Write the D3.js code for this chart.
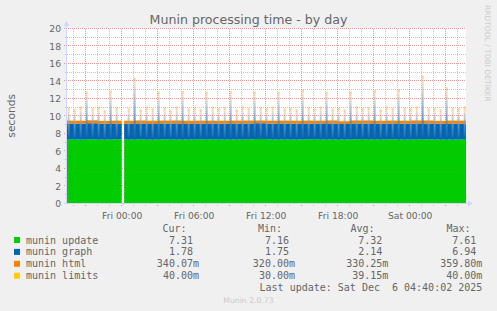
<!DOCTYPE html>
<html>
<head>
<meta charset="utf-8">
<script src="https://cdn.jsdelivr.net/npm/d3@7"></script>
<style>
  body { margin: 0; background: #f0f0f0; }
  svg { display: block; }
  text { font-family: "DejaVu Sans", sans-serif; fill: #666; }
  .mono { font-family: "DejaVu Sans Mono", monospace; font-size: 10px; white-space: pre; }
</style>
</head>
<body>
<svg id="chart"></svg>
<script>
// series
var seriesKeys = ["update", "graph", "html", "limits"];
var seriesNames = ["munin update", "munin graph", "munin html", "munin limits"];
var seriesColors = ["#00cc00", "#0066b3", "#ff8000", "#ffcc00"];

// legend values
var curVals = ["7.31", "1.78", "340.07m", "40.00m"];
var minVals = ["7.16", "1.75", "320.00m", "30.00m"];
var avgVals = ["7.32", "2.14", "330.25m", "39.15m"];
var maxVals = ["7.61", "6.94", "359.80m", "40.00m"];

var yTicks = [0, 2, 4, 6, 8, 10, 12, 14, 16, 18, 20];
var yMinorTicks = [1, 3, 5, 7, 9, 11, 13, 15, 17, 19];

// hours relative to Fri 5 Dec 2025 00:00
var viewHours = [-4.56, 28.69];

// base level, one slot per hour (null = no data)
var slotHours = [-5, -4, -3, -2, -1, 0, 0.2, 1, 2, 3, 4, 5, 6, 7, 8, 9, 10, 11, 12, 13,
  14, 15, 16, 17, 18, 19, 20, 21, 22, 23, 24, 25, 26, 27, 28];
var updateBase = [7.31, 7.30, 7.33, 7.29, 7.32, null, 7.30, 7.31, 7.29, 7.32, 7.30, 7.28,
  7.33, 7.31, 7.30, 7.29, 7.32, 7.34, 7.31, 7.30, 7.29, 7.33, 7.31, 7.30, 7.28, 7.32,
  7.31, 7.30, 7.33, 7.29, 7.31, 7.32, 7.30, 7.29, 7.31];
var graphBase = [1.80, 1.78, 1.82, 1.79, 1.77, null, 1.79, 1.81, 1.78, 1.80, 1.83, 1.79,
  1.77, 1.80, 1.78, 1.82, 1.79, 1.80, 1.78, 1.81, 1.79, 1.77, 1.80, 1.82, 1.78, 1.79,
  1.81, 1.80, 1.78, 1.79, 1.82, 1.80, 1.78, 1.81, 1.78];
var htmlBase = [0.33, 0.34, 0.33, 0.32, 0.34, null, 0.33, 0.33, 0.34, 0.32, 0.33, 0.35,
  0.33, 0.32, 0.34, 0.33, 0.33, 0.32, 0.34, 0.33, 0.33, 0.34, 0.32, 0.33, 0.33, 0.34,
  0.33, 0.32, 0.33, 0.34, 0.33, 0.33, 0.32, 0.34, 0.34];
var limitsBase = [0.04, 0.04, 0.04, 0.04, 0.04, null, 0.04, 0.04, 0.04, 0.04, 0.04, 0.04,
  0.04, 0.04, 0.04, 0.04, 0.04, 0.04, 0.04, 0.04, 0.04, 0.04, 0.04, 0.04, 0.04, 0.04,
  0.04, 0.04, 0.04, 0.04, 0.04, 0.04, 0.04, 0.04, 0.04];

// munin graph peaks (one 5 min sample each half hour)
var spikeHours = [-4.42, -3.92, -3.42, -2.92, -2.42, -1.92, -1.42, -0.92, -0.42, 0.08,
  0.58, 1.08, 1.58, 2.08, 2.58, 3.08, 3.58, 4.08, 4.58, 5.08, 5.58, 6.08, 6.58, 7.08,
  7.58, 8.08, 8.58, 9.08, 9.58, 10.08, 10.58, 11.08, 11.58, 12.08, 12.58, 13.08, 13.58,
  14.08, 14.58, 15.08, 15.58, 16.08, 16.58, 17.08, 17.58, 18.08, 18.58, 19.08, 19.58,
  20.08, 20.58, 21.08, 21.58, 22.08, 22.58, 23.08, 23.58, 24.08, 24.58, 25.08, 25.58,
  26.08, 26.58, 27.08, 27.58, 28.08, 28.58];
var spikeGraph = [3.3, 3.1, 3.4, 5.1, 3.2, 3.4, 3.0, 5.2, 3.3, null,
  3.2, 6.7, 3.1, 3.4, 3.2, 5.1, 3.3, 3.0, 3.4, 5.2, 3.2, 3.3, 3.1, 5.1,
  3.4, 3.2, 3.3, 5.2, 3.1, 3.4, 3.2, 5.1, 3.3, 3.2, 3.4, 5.1, 3.2,
  3.3, 3.1, 5.3, 3.3, 3.2, 3.4, 5.1, 3.2, 3.3, 3.1, 5.1, 3.4,
  3.2, 3.3, 5.3, 3.1, 3.4, 3.2, 5.4, 3.3, 3.2, 3.4, 6.94, 3.2,
  3.3, 3.1, 5.6, 3.3, 3.2, 3.4];

var width = 497, height = 311;
var plot = { left: 67, right: 466, top: 28.3, bottom: 203.3 };
var axisColor = "#cfd6f8";

var dayStart = new Date(2025, 11, 5, 0, 0, 0);
function hourToDate(h) { return new Date(+dayStart + h * 36e5); }
function crisp(v) { return Math.round(v - 0.5) + 0.5; }

var svg = d3.select("#chart")
    .attr("width", width)
    .attr("height", height);

// scales
var x = d3.scaleTime()
    .domain(viewHours.map(hourToDate))
    .range([plot.left, plot.right]);
var y = d3.scaleLinear()
    .domain([0, 20])
    .range([plot.bottom, plot.top]);

var defs = svg.append("defs");
defs.append("clipPath")
    .attr("id", "plotClip")
  .append("rect")
    .attr("x", plot.left)
    .attr("y", 0)
    .attr("width", plot.right - plot.left)
    .attr("height", plot.bottom);

var grad = defs.append("linearGradient")
    .attr("id", "spikeFade")
    .attr("x1", 0).attr("y1", 0).attr("x2", 0).attr("y2", 1);
grad.append("stop").attr("offset", 0).attr("stop-color", "#f5c894").attr("stop-opacity", 0.55);
grad.append("stop").attr("offset", 0.3).attr("stop-color", "#98b2c8").attr("stop-opacity", 0.7);
grad.append("stop").attr("offset", 1).attr("stop-color", "#0066b3").attr("stop-opacity", 0.95);

// canvas
svg.append("rect")
    .attr("x", plot.left)
    .attr("y", crisp(plot.top) - 0.5)
    .attr("width", plot.right - plot.left)
    .attr("height", plot.bottom - plot.top)
    .attr("fill", "#fff");

// grid
var minorTimes = x.ticks(d3.timeHour.every(1)).filter(function(d) { return d.getHours() % 3 !== 0; });
var majorTimes = x.ticks(d3.timeHour.every(3));
var labelTimes = x.ticks(d3.timeHour.every(6));

function drawGrid(opacity) {
  var gridG = svg.append("g")
      .attr("shape-rendering", "crispEdges")
      .attr("stroke-dasharray", "1,1")
      .attr("opacity", opacity);

  gridG.selectAll("line.vminor")
    .data(minorTimes)
    .join("line")
      .attr("x1", function(d) { return crisp(x(d)); })
      .attr("x2", function(d) { return crisp(x(d)); })
      .attr("y1", crisp(plot.top))
      .attr("y2", plot.bottom + 2.5)
      .attr("stroke", "rgba(143,143,143,0.45)");

  gridG.selectAll("line.hminor")
    .data(yMinorTicks)
    .join("line")
      .attr("x1", plot.left - 2)
      .attr("x2", plot.right)
      .attr("y1", function(d) { return crisp(y(d)); })
      .attr("y2", function(d) { return crisp(y(d)); })
      .attr("stroke", "rgba(143,143,143,0.45)");

  gridG.selectAll("line.vmajor")
    .data(majorTimes)
    .join("line")
      .attr("x1", function(d) { return crisp(x(d)); })
      .attr("x2", function(d) { return crisp(x(d)); })
      .attr("y1", crisp(plot.top))
      .attr("y2", plot.bottom + 3)
      .attr("stroke", "rgba(222,79,79,0.5)");

  gridG.selectAll("line.hmajor")
    .data(yTicks.slice(1))
    .join("line")
      .attr("x1", plot.left - 3)
      .attr("x2", plot.right)
      .attr("y1", function(d) { return crisp(y(d)); })
      .attr("y2", function(d) { return crisp(y(d)); })
      .attr("stroke", "rgba(222,79,79,0.5)");
}

drawGrid(1);

// stacked base
var baseRows = slotHours.map(function(h, i) {
  return {
    start: h,
    end: i < slotHours.length - 1 ? slotHours[i + 1] : viewHours[1],
    ok: updateBase[i] != null,
    update: updateBase[i], graph: graphBase[i], html: htmlBase[i], limits: limitsBase[i]
  };
});
var baseStack = d3.stack()
    .keys(seriesKeys)
    .value(function(d, k) { return d[k] == null ? 0 : d[k]; })(baseRows);

var stepArea = d3.area()
    .defined(function(p) { return p.ok; })
    .x(function(p) { return x(hourToDate(p.t)); })
    .y0(function(p) { return y(p.y0); })
    .y1(function(p) { return y(p.y1); });

var dataG = svg.append("g").attr("clip-path", "url(#plotClip)");

dataG.selectAll("path.layer")
  .data(baseStack)
  .join("path")
    .classed("layer", true)
    .attr("fill", function(d, i) { return seriesColors[i]; })
    .attr("d", function(layer) {
      var pts = [];
      layer.forEach(function(d) {
        pts.push({ t: d.data.start, y0: d[0], y1: d[1], ok: d.data.ok });
        pts.push({ t: d.data.end, y0: d[0], y1: d[1], ok: d.data.ok });
      });
      return stepArea(pts);
    });

// spikes
var spikeRows = spikeHours.map(function(h, i) {
  var s = baseRows[d3.bisectRight(slotHours, h) - 1];
  return { t: h, update: s.update, graph: spikeGraph[i], html: s.html, limits: s.limits };
}).filter(function(d) { return d.graph != null && d.update != null; });

var spikeStack = d3.stack().keys(seriesKeys)(spikeRows);
var spikeFills = [null, "url(#spikeFade)", seriesColors[2], seriesColors[3]];
var spikeOpacity = [0, 1, 0.4, 0.4];

dataG.selectAll("g.spikes")
  .data(spikeStack.slice(1))
  .join("g")
    .classed("spikes", true)
    .attr("fill", function(d, i) { return spikeFills[i + 1]; })
    .attr("opacity", function(d, i) { return spikeOpacity[i + 1]; })
  .selectAll("rect")
  .data(function(d) { return d; })
  .join("rect")
    .attr("x", function(d) { return x(hourToDate(d.data.t)) - 1; })
    .attr("width", 2)
    .attr("y", function(d) { return y(d[1]); })
    .attr("height", function(d) { return y(d[0]) - y(d[1]); });

// faint grid on top of the data
drawGrid(0.2);

// axes lines + arrows
var ax0 = crisp(plot.left - 0.5), ay0 = crisp(plot.bottom);
svg.append("line")
    .attr("x1", ax0).attr("x2", ax0)
    .attr("y1", ay0).attr("y2", 25)
    .attr("stroke", axisColor)
    .attr("shape-rendering", "crispEdges");
svg.append("path")
    .attr("d", `M${ax0 - 3},26 L${ax0},21 L${ax0 + 3},26 Z`)
    .attr("fill", axisColor);
svg.append("line")
    .attr("x1", plot.left - 3).attr("x2", 469)
    .attr("y1", ay0).attr("y2", ay0)
    .attr("stroke", axisColor)
    .attr("shape-rendering", "crispEdges");
svg.append("path")
    .attr("d", `M468,${ay0 - 3} L473,${ay0} L468,${ay0 + 3} Z`)
    .attr("fill", axisColor);

// tick labels
svg.append("g")
    .attr("transform", `translate(${plot.left - 6}, 0)`)
    .call(d3.axisLeft(y).tickValues(yTicks).tickSize(0).tickPadding(0).tickFormat(d3.format("d")))
    .call(function(g) { g.select(".domain").remove(); })
    .selectAll("text")
      .style("font-family", "DejaVu Sans")
      .style("font-size", "9.2px")
      .attr("fill", "#666")
      .attr("dy", "0.35em");

svg.append("g")
    .attr("transform", `translate(0, ${plot.bottom + 4})`)
    .call(d3.axisBottom(x).tickValues(labelTimes).tickSize(0).tickPadding(5).tickFormat(d3.timeFormat("%a %H:%M")))
    .call(function(g) { g.select(".domain").remove(); })
    .selectAll("text")
      .style("font-family", "DejaVu Sans")
      .style("font-size", "9.2px")
      .attr("fill", "#666");

// title
svg.append("text")
    .text("Munin processing time - by day")
    .attr("x", width / 2)
    .attr("y", 23.5)
    .attr("text-anchor", "middle")
    .style("font-size", "12.6px");

// y label
svg.append("text")
    .text("seconds")
    .attr("transform", `translate(15, ${(plot.top + plot.bottom) / 2}) rotate(-90)`)
    .attr("text-anchor", "middle")
    .style("font-size", "10.7px");

// watermark
svg.append("text")
    .text("RRDTOOL / TOBI OETIKER")
    .attr("transform", "translate(485, 5) rotate(90)")
    .style("fill", "#cccccc")
    .style("font-size", "7.5px");

// legend
var legendY = 240, legendStep = 11.9;
var colRight = [199, 295, 388.3, 482.3];
var colHead = ["Cur:", "Min:", "Avg:", "Max:"];
var colHeadRight = [186.5, 282, 374.5, 470.5];
var colVals = [curVals, minVals, avgVals, maxVals];

svg.selectAll("text.head")
  .data(colHead)
  .join("text")
    .classed("head mono", true)
    .text(function(d) { return d; })
    .attr("x", function(d, i) { return colHeadRight[i]; })
    .attr("y", legendY - legendStep + 3.5)
    .attr("text-anchor", "end");

var rows = svg.selectAll("g.legrow")
  .data(seriesNames)
  .join("g")
    .classed("legrow", true)
    .attr("transform", function(d, i) { return `translate(0, ${legendY + i * legendStep})`; });

rows.append("rect")
    .attr("x", 14).attr("y", -3)
    .attr("width", 6).attr("height", 6)
    .attr("fill", function(d, i) { return seriesColors[i]; });

rows.append("text")
    .classed("mono", true)
    .text(function(d) { return d; })
    .attr("x", 26)
    .attr("y", 3.5);

colVals.forEach(function(vals, c) {
  rows.append("text")
      .classed("mono", true)
      .attr("xml:space", "preserve")
      .text(function(d, i) { var v = vals[i]; return /m$/.test(v) ? v : v + " "; })
      .attr("x", colRight[c])
      .attr("y", 3.5)
      .attr("text-anchor", "end");
});

svg.append("text")
    .classed("mono", true)
    .attr("xml:space", "preserve")
    .text("Last update: Sat Dec  6 04:40:02 2025")
    .attr("x", 482.3)
    .attr("y", 291)
    .attr("text-anchor", "end");

svg.append("text")
    .text("Munin 2.0.73")
    .attr("x", width / 2)
    .attr("y", 302.5)
    .attr("text-anchor", "middle")
    .style("fill", "#c8c8c8")
    .style("font-size", "7.7px");
</script>
</body>
</html>
